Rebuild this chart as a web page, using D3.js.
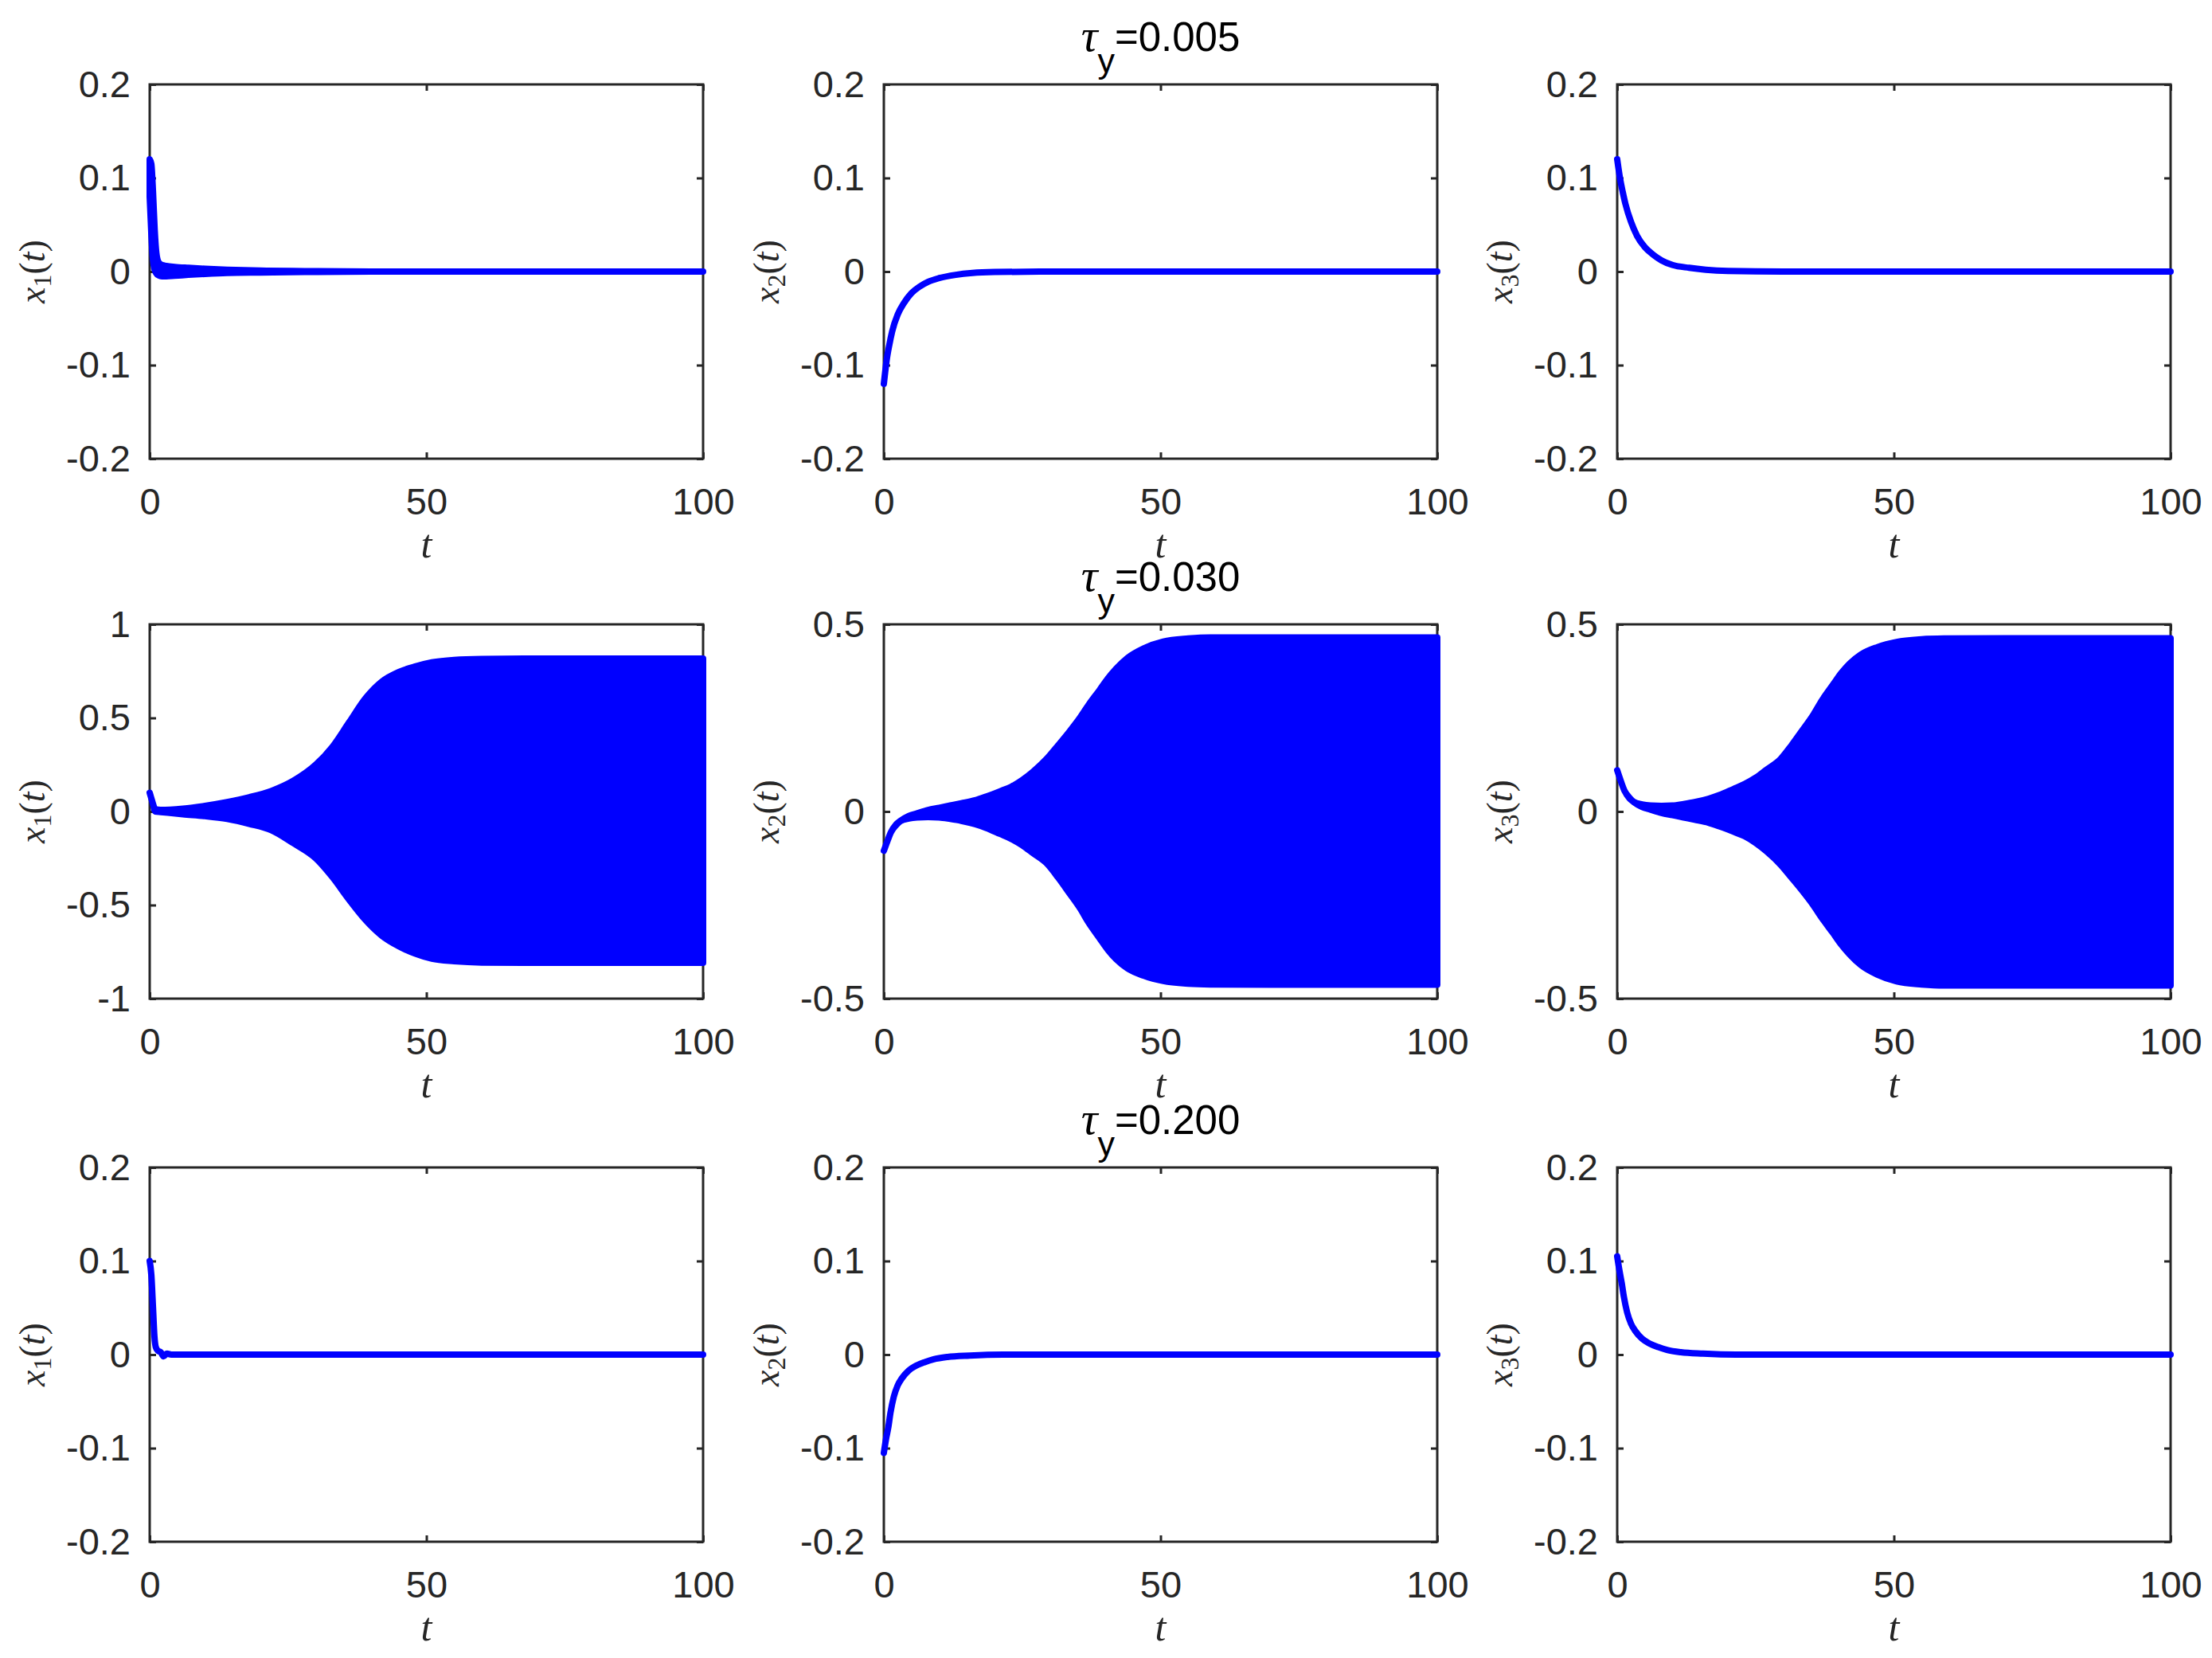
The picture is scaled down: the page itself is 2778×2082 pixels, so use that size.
<!DOCTYPE html>
<html><head><meta charset="utf-8">
<script src="https://cdn.jsdelivr.net/npm/d3@7"></script>
<style>html,body{margin:0;padding:0;background:#fff;} svg{display:block}</style>
</head><body>
<script>
// ---------------- data ----------------
const xTicks = [0, 50, 100];
const yTicksSmall = [-0.2, -0.1, 0, 0.1, 0.2];
const yTicksWide = [-1, -0.5, 0, 0.5, 1];
const yTicksHalf = [-0.5, 0, 0.5];
const tauValues = ["0.005", "0.030", "0.200"];
const stateIndex = ["1", "2", "3"];

// row 1 : tau_y = 0.005
const t_r1c1  = [0, 0.3, 0.6, 0.9, 1.2, 1.6, 2.2, 3, 4.5, 7, 10, 14, 20, 28, 40, 100];
const hi_r1c1 = [0.12, 0.115, 0.085, 0.045, 0.02, 0.01, 0.007, 0.006, 0.005, 0.004, 0.003, 0.002, 0.001, 0.0005, 0, 0];
const lo_r1c1 = [0.08, 0.04, 0.012, 0.002, -0.002, -0.004, -0.005, -0.005, -0.0045, -0.0035, -0.0025, -0.0015, -0.001, -0.0005, 0, 0];
const t_r1    = [0, 0.5, 1, 1.5, 2.5, 3.6, 5, 6.5, 8, 10, 13, 16, 20, 30, 100];
const v_r1c2  = [-0.12, -0.095, -0.078, -0.064, -0.046, -0.034, -0.023, -0.016, -0.011, -0.007, -0.0035, -0.0015, -0.0005, 0, 0];
const v_r1c3  = [0.12, 0.1, 0.085, 0.072, 0.053, 0.038, 0.026, 0.018, 0.012, 0.007, 0.004, 0.002, 0.0007, 0, 0];

// row 2 : tau_y = 0.030 (upper / lower envelope of the fast oscillation)
const t_r2c1  = [0, 0.5, 1, 2, 6, 10, 14, 18, 22, 26, 30, 33, 36, 39, 42, 45, 48, 51, 55, 60, 70, 100];
const hi_r2c1 = [0.10, 0.05, 0.012, 0.008, 0.015, 0.03, 0.05, 0.076, 0.11, 0.165, 0.25, 0.345, 0.475, 0.605, 0.695, 0.745, 0.775, 0.797, 0.81, 0.815, 0.817, 0.817];
const lo_r2c1 = [0.10, 0.05, 0.0, -0.003, -0.015, -0.025, -0.04, -0.066, -0.1, -0.17, -0.25, -0.35, -0.47, -0.58, -0.665, -0.72, -0.76, -0.787, -0.8, -0.807, -0.809, -0.809];
const t_r2    = [0, 0.5, 1.3, 2.2, 3, 4.5, 6, 8, 10, 12, 14, 16.5, 18.5, 21, 23, 25, 27, 29.5, 31.5, 33.5, 35.5, 37, 39, 40.5, 42, 44, 47, 50.5, 55, 59, 70, 100];
const hi_r2c2 = [-0.105, -0.085, -0.055, -0.035, -0.025, -0.012, -0.005, 0.004, 0.01, 0.016, 0.022, 0.03, 0.04, 0.054, 0.066, 0.084, 0.107, 0.142, 0.177, 0.213, 0.252, 0.285, 0.325, 0.356, 0.382, 0.41, 0.436, 0.454, 0.462, 0.465, 0.465, 0.465];
const lo_r2c2 = [-0.105, -0.085, -0.055, -0.037, -0.026, -0.019, -0.016, -0.015, -0.016, -0.02, -0.025, -0.034, -0.044, -0.06, -0.073, -0.09, -0.112, -0.14, -0.177, -0.218, -0.26, -0.297, -0.339, -0.37, -0.395, -0.419, -0.439, -0.453, -0.46, -0.462, -0.463, -0.463];
const hi_r2c3 = [0.11, 0.088, 0.056, 0.037, 0.026, 0.019, 0.016, 0.015, 0.016, 0.02, 0.025, 0.034, 0.044, 0.06, 0.073, 0.09, 0.112, 0.14, 0.177, 0.218, 0.26, 0.297, 0.339, 0.37, 0.395, 0.419, 0.439, 0.453, 0.46, 0.462, 0.463, 0.463];
const lo_r2c3 = [0.11, 0.088, 0.056, 0.035, 0.025, 0.012, 0.005, -0.004, -0.01, -0.016, -0.022, -0.03, -0.04, -0.054, -0.066, -0.084, -0.107, -0.142, -0.177, -0.213, -0.252, -0.285, -0.325, -0.356, -0.382, -0.41, -0.436, -0.454, -0.462, -0.465, -0.465, -0.465];

// row 3 : tau_y = 0.200
const t_r3c1  = [0, 0.3, 0.6, 0.85, 1.1, 1.5, 2, 2.5, 3.1, 3.9, 5, 100];
const v_r3c1  = [0.1, 0.085, 0.05, 0.02, 0.008, 0.004, 0.0025, -0.002, 0.001, 0, 0, 0];
const t_r3    = [0, 0.4, 0.8, 1.2, 1.8, 2.5, 3.3, 4.5, 5.8, 7.4, 9, 11.5, 15.5, 21.5, 100];
const v_r3c2  = [-0.105, -0.09, -0.078, -0.062, -0.045, -0.033, -0.025, -0.017, -0.012, -0.008, -0.005, -0.0025, -0.001, 0, 0];
const v_r3c3  = [0.105, 0.09, 0.077, 0.062, 0.045, 0.033, 0.025, 0.017, 0.012, 0.008, 0.005, 0.0025, 0.001, 0, 0];

// ---------------- layout ----------------
const W = 2778, H = 2082;
const colLeft = [188, 1110, 2031];
const rowTop = [106, 784, 1466];
const PW = 695, PH = 470;
const AX = "#262626", BLUE = "#0000ff";
const SANS = "'Liberation Sans', Arial, sans-serif";
const SERIF = "'Liberation Serif', 'Times New Roman', serif";

const panels = [
  {r:0,c:0,dom:[-0.2,0.2],ticks:yTicksSmall,t:t_r1c1,hi:hi_r1c1,lo:lo_r1c1},
  {r:0,c:1,dom:[-0.2,0.2],ticks:yTicksSmall,t:t_r1,hi:v_r1c2,lo:v_r1c2},
  {r:0,c:2,dom:[-0.2,0.2],ticks:yTicksSmall,t:t_r1,hi:v_r1c3,lo:v_r1c3},
  {r:1,c:0,dom:[-1,1],ticks:yTicksWide,t:t_r2c1,hi:hi_r2c1,lo:lo_r2c1},
  {r:1,c:1,dom:[-0.5,0.5],ticks:yTicksHalf,t:t_r2,hi:hi_r2c2,lo:lo_r2c2},
  {r:1,c:2,dom:[-0.5,0.5],ticks:yTicksHalf,t:t_r2,hi:hi_r2c3,lo:lo_r2c3},
  {r:2,c:0,dom:[-0.2,0.2],ticks:yTicksSmall,t:t_r3c1,hi:v_r3c1,lo:v_r3c1},
  {r:2,c:1,dom:[-0.2,0.2],ticks:yTicksSmall,t:t_r3,hi:v_r3c2,lo:v_r3c2},
  {r:2,c:2,dom:[-0.2,0.2],ticks:yTicksSmall,t:t_r3,hi:v_r3c3,lo:v_r3c3}
];

const svg = d3.select("body").append("svg")
  .attr("width", W).attr("height", H).attr("viewBox", `0 0 ${W} ${H}`);
svg.append("rect").attr("width", W).attr("height", H).attr("fill", "#fff");

const fmt = d => String(d);

panels.forEach(p => {
  const L = colLeft[p.c], T = rowTop[p.r];
  const x = d3.scaleLinear().domain([0, 100]).range([L, L + PW]);
  const y = d3.scaleLinear().domain(p.dom).range([T + PH, T]);
  const g = svg.append("g");

  const styleAxis = sel => {
    sel.select(".domain").remove();
    sel.selectAll(".tick line").attr("stroke", AX).attr("stroke-width", 3);
    sel.selectAll(".tick text").attr("fill", AX).style("font-family", SANS).style("font-size", "47px");
  };
  g.append("g").attr("transform", `translate(0,${T + PH})`)
    .call(d3.axisBottom(x).tickValues(xTicks).tickSize(-8).tickPadding(37).tickFormat(fmt)).call(styleAxis);
  g.append("g").attr("transform", `translate(0,${T})`)
    .call(d3.axisTop(x).tickValues(xTicks).tickSize(-8).tickFormat("")).call(styleAxis);
  g.append("g").attr("transform", `translate(${L},0)`)
    .call(d3.axisLeft(y).tickValues(p.ticks).tickSize(-8).tickPadding(24).tickFormat(fmt)).call(styleAxis);
  g.append("g").attr("transform", `translate(${L + PW},0)`)
    .call(d3.axisRight(y).tickValues(p.ticks).tickSize(-8).tickFormat("")).call(styleAxis);
  g.selectAll("text").filter(function(){ return this.textContent === ""; }).remove();

  g.append("rect").attr("x", L).attr("y", T).attr("width", PW).attr("height", PH)
    .attr("fill", "none").attr("stroke", AX).attr("stroke-width", 3);

  const rows = p.t.map((tv, i) => ({t: tv, hi: p.hi[i], lo: p.lo[i]}));
  const area = d3.area().x(d => x(d.t)).y0(d => y(d.lo)).y1(d => y(d.hi)).curve(d3.curveMonotoneX);
  g.append("path").attr("d", area(rows))
    .attr("fill", BLUE).attr("stroke", BLUE).attr("stroke-width", 8)
    .attr("stroke-linejoin", "round");

  g.append("text").attr("x", L + PW / 2).attr("y", T + PH + 124)
    .attr("text-anchor", "middle").style("font-family", SERIF).style("font-style", "italic")
    .style("font-size", "50px").attr("fill", AX).text("t");

  const yl = g.append("text")
    .attr("transform", `translate(${L - 132},${T + PH / 2}) rotate(-90)`)
    .attr("text-anchor", "middle").style("font-family", SERIF).style("font-size", "46px").attr("fill", AX);
  yl.append("tspan").style("font-style", "italic").text("x");
  yl.append("tspan").style("font-size", "32px").attr("dy", 8).text(stateIndex[p.c]);
  yl.append("tspan").attr("dy", -8).text("(");
  yl.append("tspan").style("font-style", "italic").text("t");
  yl.append("tspan").text(")");
});

tauValues.forEach((tv, r) => {
  const cx = colLeft[1] + PW / 2;
  const tt = svg.append("text").attr("x", cx).attr("y", rowTop[r] - 42)
    .attr("text-anchor", "middle").style("font-family", SANS).style("font-size", "51px").attr("fill", "#000");
  tt.append("tspan").style("font-family", SERIF).style("font-style", "italic").style("font-size", "58px").text("τ");
  tt.append("tspan").style("font-size", "43px").attr("dy", 27).text("y");
  tt.append("tspan").attr("dy", -27).text("=" + tv);
});
</script>
</body></html>
